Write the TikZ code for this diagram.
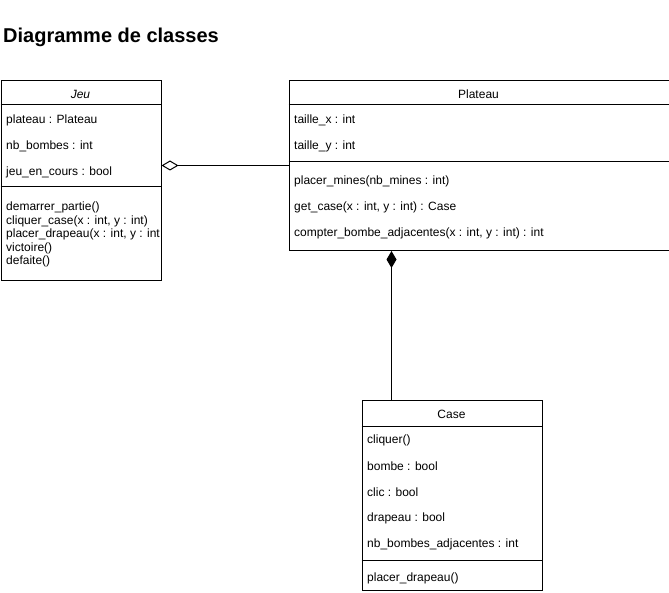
\documentclass[tikz,border=0pt]{standalone}
\usepackage{fontspec}
\setmainfont{Liberation Sans}
\usetikzlibrary{arrows.meta}
\tikzset{
  classbox/.style={draw, rectangle, anchor=north west, inner sep=0pt, line width=1pt},
  attr/.style={anchor=west, inner sep=0pt, yshift=-1.5pt, font=\fontsize{12}{14}\selectfont},
  titlecls/.style={inner sep=0pt, yshift=-1.5pt, font=\fontsize{12}{14}\selectfont},
  aggr/.style={{Diamond[open,length=17pt,width=10pt]}-, line width=1pt},
  compo/.style={-{Diamond[length=17pt,width=10pt]}, line width=1pt}
}
\begin{document}
\begin{tikzpicture}[x=1pt,y=-1pt]
\useasboundingbox (0,0) rectangle (669,593);
\node[anchor=west, inner sep=0pt, font=\bfseries\fontsize{20}{24}\selectfont] (titre) at (3,37.5) {Diagramme de classes};

% Jeu
\node[classbox, minimum width=160pt, minimum height=200pt] (jeu) at (0.5,80) {};
\node[titlecls, font=\itshape\fontsize{12}{14}\selectfont] (jeunom) at (80.5,93) {Jeu};
\draw[line width=1pt] ([yshift=-25pt]jeu.north west) -- ([yshift=-25pt]jeu.north east);
\node[attr] (jeua1) at (6,119) {plateau : Plateau};
\node[attr] (jeua2) at (6,145) {nb\_bombes : int};
\node[attr] (jeua3) at (6,171) {jeu\_en\_cours : bool};
\draw[line width=1pt] ([yshift=-107pt]jeu.north west) -- ([yshift=-107pt]jeu.north east);
\node[attr, anchor=north west, align=left, font=\fontsize{12}{13.5}\selectfont] (jeumeth) at (6,200.5) {demarrer\_partie()\\cliquer\_case(x : int, y : int)\\placer\_drapeau(x : int, y : int\\victoire()\\defaite()};

% Plateau
\node[classbox, minimum width=380pt, minimum height=170pt] (plateau) at (288.5,80) {};
\node[titlecls] (plateaunom) at (478.5,93) {Plateau};
\draw[line width=1pt] ([yshift=-25pt]plateau.north west) -- ([yshift=-25pt]plateau.north east);
\node[attr] (plata1) at (294,119) {taille\_x : int};
\node[attr] (plata2) at (294,145) {taille\_y : int};
\draw[line width=1pt] ([yshift=-82pt]plateau.north west) -- ([yshift=-82pt]plateau.north east);
\node[attr] (platm1) at (294,180) {placer\_mines(nb\_mines : int)};
\node[attr] (platm2) at (294,206) {get\_case(x : int, y : int) : Case};
\node[attr] (platm3) at (294,232) {compter\_bombe\_adjacentes(x : int, y : int) : int};

% Case
\node[classbox, minimum width=180pt, minimum height=190pt] (case) at (361.5,400) {};
\node[titlecls] (casenom) at (451.5,413) {Case};
\draw[line width=1pt] ([yshift=-26pt]case.north west) -- ([yshift=-26pt]case.north east);
\node[attr] (casea1) at (367,439) {cliquer()};
\node[attr] (casea2) at (367,465) {bombe : bool};
\node[attr] (casea3) at (367,491) {clic : bool};
\node[attr] (casea4) at (367,517) {drapeau : bool};
\node[attr] (casea5) at (367,543) {nb\_bombes\_adjacentes : int};
\draw[line width=1pt] ([yshift=-160pt]case.north west) -- ([yshift=-160pt]case.north east);
\node[attr] (casem1) at (367,577) {placer\_drapeau()};

% relations
\draw[aggr] (jeu.east |- plateau.west) -- (plateau.west);
\coordinate (compbas) at ([xshift=30pt]case.north west);
\draw[compo] (compbas) -- (compbas |- plateau.south);
\end{tikzpicture}
\end{document}
